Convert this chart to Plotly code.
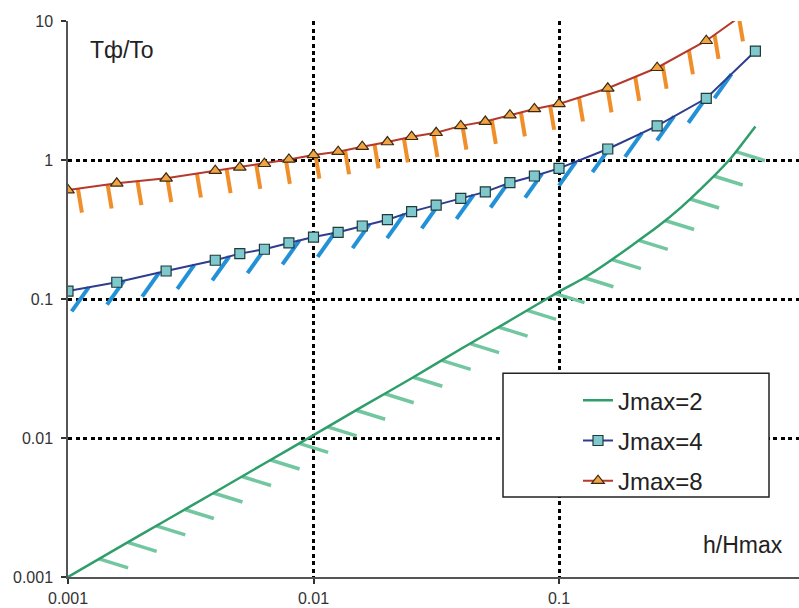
import numpy as np
import plotly.graph_objects as go

# ---------------- data ----------------
x_pts = [0.001, 0.00158, 0.00251, 0.00398, 0.00501, 0.00631, 0.00794, 0.01,
         0.0126, 0.0158, 0.02, 0.0251, 0.0316, 0.0398, 0.0501, 0.0631, 0.0794,
         0.1, 0.158, 0.251, 0.398, 0.631]
jmax4 = [0.114, 0.132, 0.159, 0.19, 0.212, 0.228, 0.253, 0.279, 0.302, 0.335,
         0.372, 0.425, 0.474, 0.53, 0.59, 0.687, 0.767, 0.871, 1.2, 1.76, 2.78, 6.08]
jmax8 = [0.608, 0.68, 0.738, 0.838, 0.885, 0.94, 1.01, 1.087, 1.148, 1.247,
         1.347, 1.47, 1.57, 1.76, 1.89, 2.10, 2.33, 2.53, 3.28, 4.61, 7.21, 12.9]
x_j2 = [0.001, 0.00158, 0.00251, 0.00398, 0.00631, 0.01, 0.0158, 0.0251, 0.0398,
        0.0631, 0.1, 0.126, 0.158, 0.2, 0.251, 0.316, 0.398, 0.501, 0.631]
jmax2 = [0.001, 0.0016, 0.00256, 0.00409, 0.00655, 0.0105, 0.0168, 0.0269, 0.0437,
         0.07, 0.113, 0.141, 0.183, 0.246, 0.329, 0.46, 0.675, 1.03, 1.74]

x_tickvals = [0.001, 0.01, 0.1]
x_ticktext = ["0.001", "0.01", "0.1"]
y_tickvals = [0.001, 0.01, 0.1, 1, 10]
y_ticktext = ["0.001", "0.01", "0.1", "1", "10"]
names = ["Jmax=2", "Jmax=4", "Jmax=8"]

# ---------------- layout constants ----------------
W, H = 799, 608
ML, MR, MT, MB = 68, 0, 20.5, 31
XR = [-3, -0.0224]
YR = [-3, 1]
PW, PH = W - ML - MR, H - MT - MB
px_x = PW / (XR[1] - XR[0])
px_y = PH / (YR[1] - YR[0])
FONT = "Liberation Sans, Arial, sans-serif"


def hatch(xs, ys, spacing, phase, vec):
    """Short hatch strokes placed at equal screen-arc spacing along a curve."""
    X = np.log10(xs) * px_x
    Y = np.log10(ys) * px_y
    cum = np.concatenate([[0], np.cumsum(np.hypot(np.diff(X), np.diff(Y)))])
    hx, hy = [], []
    for s in np.arange(phase, cum[-1], spacing):
        xs0 = np.interp(s, cum, X)
        ys0 = np.interp(s, cum, Y)
        hx += [10 ** (xs0 / px_x), 10 ** ((xs0 + vec[0]) / px_x), None]
        hy += [10 ** (ys0 / px_y), 10 ** ((ys0 - vec[1]) / px_y), None]
    return hx, hy


fig = go.Figure()

# hatch strokes (drawn beneath the curves)
for xs, ys, sp, ph, vec, col, w in [
    (x_j2, jmax2, 33, 36, (29, 9), "#72c6a0", 3.5),
    (x_pts, jmax4, 36, 21, (-17, 24), "#2391d8", 4),
    (x_pts, jmax8, 30, 10, (4, 24), "#f08e2a", 4),
]:
    hx, hy = hatch(xs, ys, sp, ph, vec)
    fig.add_trace(go.Scatter(x=hx, y=hy, mode="lines", showlegend=False,
                             hoverinfo="skip", line=dict(color=col, width=w)))

fig.add_trace(go.Scatter(x=x_j2, y=jmax2, mode="lines", name=names[0], legendgroup="a",
                         line=dict(color="#2f9e6b", width=2.5, shape="spline", smoothing=0.5)))
fig.add_trace(go.Scatter(x=x_pts, y=jmax4, mode="lines+markers", name=names[1], legendgroup="b",
                         line=dict(color="#2e3d8f", width=2),
                         marker=dict(symbol="square", size=10, color="#7fc8cd",
                                     line=dict(color="#1f3b3b", width=1.2))))
fig.add_trace(go.Scatter(x=x_pts, y=jmax8, mode="lines+markers", name=names[2], legendgroup="c",
                         line=dict(color="#b5392c", width=2),
                         marker=dict(symbol="triangle-up", size=11, color="#f2a444",
                                     line=dict(color="#3a2a10", width=1.2))))

# legend frame
fig.add_shape(type="rect", xref="paper", yref="paper",
              x0=(503 - ML) / PW, x1=(769 - ML) / PW,
              y0=(H - MB - 497) / PH, y1=(H - MB - 373) / PH,
              fillcolor="white", line=dict(color="#222", width=1.5), layer="above")

fig.add_annotation(text="Tф/To", xref="paper", yref="paper", x=(88 - ML) / PW,
                   y=(H - MB - 50) / PH,
                   xanchor="left", yanchor="middle", showarrow=False,
                   font=dict(family=FONT, size=23, color="#222"))
fig.add_annotation(text="h/Hmax", xref="paper", yref="paper", x=(785 - ML) / PW,
                   y=(H - MB - 545) / PH,
                   xanchor="right", yanchor="middle", showarrow=False,
                   font=dict(family=FONT, size=23, color="#222"))

axis_common = dict(type="log", showline=True, linecolor="#555", linewidth=1.5,
                   ticks="outside", ticklen=5, tickcolor="#333", tickwidth=1.5,
                   showgrid=True, gridcolor="#000", gridwidth=3, griddash="4px,3.5px",
                   zeroline=False, automargin=False,
                   tickfont=dict(family=FONT, size=16, color="#333"))

fig.update_layout(
    width=W, height=H,
    margin=dict(l=ML, r=MR, t=MT, b=MB, pad=0),
    paper_bgcolor="white", plot_bgcolor="white",
    xaxis=dict(range=XR, tickvals=x_tickvals, ticktext=x_ticktext,
               ticklabelstandoff=1, **axis_common),
    yaxis=dict(range=YR, tickvals=y_tickvals, ticktext=y_ticktext,
               ticklabelstandoff=5, **axis_common),
    legend=dict(x=(578 - ML) / PW, y=(H - MB - 378) / PH,
                xanchor="left", yanchor="top", bgcolor="rgba(0,0,0,0)",
                borderwidth=0, font=dict(family=FONT, size=24, color="#222"),
                traceorder="grouped", tracegroupgap=6),
    showlegend=True,
)

fig.write_html("out.html")
